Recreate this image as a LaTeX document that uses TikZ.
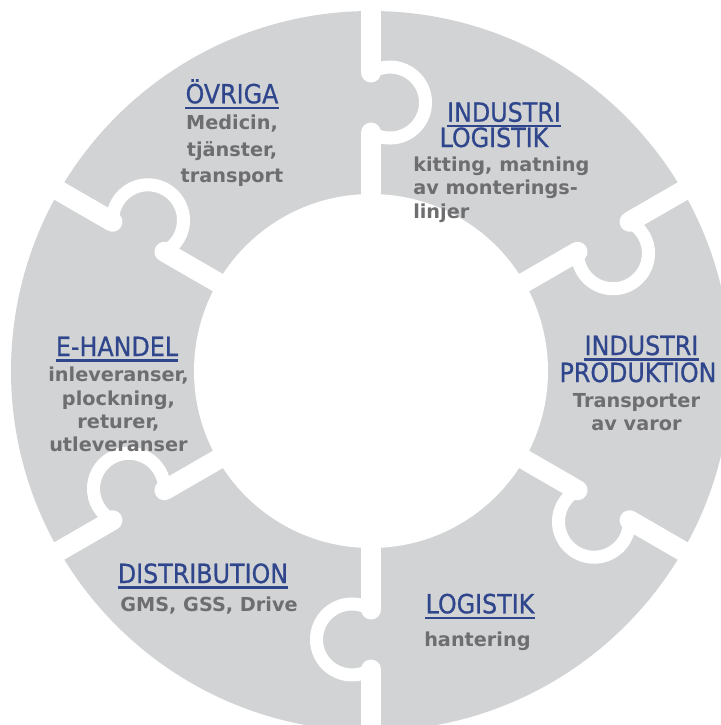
\documentclass[tikz,border=0pt]{standalone}
\usepackage{fontspec}
\setmainfont{DejaVu Sans}
\newfontfamily\headfont{DejaVu Sans Condensed}[FakeBold=0.7]
\definecolor{puzzlegrey}{RGB}{209,211,212}
\definecolor{headblue}{RGB}{47,70,140}
\definecolor{bodygrey}{RGB}{110,110,112}
\begin{document}
\begin{tikzpicture}[x=0.025cm, y=0.025cm,
        gapline/.style={white, line width=0.5cm, line cap=round},
        knobline/.style={white, line width=0.325cm},
        heading/.style={headblue, inner sep=0pt, anchor=base, font=\headfont\fontsize{18.8}{22}\selectfont},
        uline/.style={headblue, line width=0.06cm},
        body/.style={bodygrey, inner sep=0pt, anchor=base, align=center, font=\bfseries\fontsize{13.7}{16.6}\selectfont}]
                \useasboundingbox (-371,-354) rectangle (350,371);
                \clip (-371,-354) rectangle (350,371);
                \fill[puzzlegrey] (0,0) circle (360);
                \fill[white] (0,0) circle (177);
                % gaps with knobs
                \begin{scope}[rotate=-60]
                    \draw[gapline] (0,170) -- (0,238.5);
                    \draw[gapline] (0,298.5) -- (0,368);
                    \draw[knobline] (0,238.5) arc[start angle=-122.4, end angle=122.4, radius=35.5];
                \end{scope}
                \begin{scope}[rotate=0]
                    \draw[gapline] (0,170) -- (0,238.5);
                    \draw[gapline] (0,298.5) -- (0,368);
                    \draw[knobline] (0,238.5) arc[start angle=-122.4, end angle=122.4, radius=35.5];
                \end{scope}
                \begin{scope}[rotate=60]
                    \draw[gapline] (0,170) -- (0,238.5);
                    \draw[gapline] (0,298.5) -- (0,368);
                    \draw[knobline] (0,238.5) arc[start angle=-122.4, end angle=122.4, radius=35.5];
                \end{scope}
                \begin{scope}[rotate=120]
                    \draw[gapline] (0,170) -- (0,238.5);
                    \draw[gapline] (0,298.5) -- (0,368);
                    \draw[knobline] (0,238.5) arc[start angle=-122.4, end angle=122.4, radius=35.5];
                \end{scope}
                \begin{scope}[rotate=180]
                    \draw[gapline] (0,170) -- (0,238.5);
                    \draw[gapline] (0,298.5) -- (0,368);
                    \draw[knobline] (0,238.5) arc[start angle=-122.4, end angle=122.4, radius=35.5];
                \end{scope}
                \begin{scope}[rotate=240]
                    \draw[gapline] (0,170) -- (0,238.5);
                    \draw[gapline] (0,298.5) -- (0,368);
                    \draw[knobline] (0,238.5) arc[start angle=-122.4, end angle=122.4, radius=35.5];
                \end{scope}
                % headings
                \node[heading] (ovriga) at (-139,267.7) {ÖVRIGA};
                \node[heading] (indlogA) at (133,249.3) {INDUSTRI};
                \node[heading] (indlogB) at (123,224) {LOGISTIK};
                \node[heading] (indprodA) at (270.5,16) {INDUSTRI};
                \node[heading] (indprodB) at (267,-11) {PRODUKTION};
                \node[heading] (ehandel) at (-254,15) {E-HANDEL};
                \node[heading] (distribution) at (-168,-212) {DISTRIBUTION};
                \node[heading] (logistik) at (109,-242.3) {LOGISTIK};
                \draw[uline] ([yshift=-0.11cm]ovriga.base west) -- ([yshift=-0.11cm]ovriga.base east);
                \draw[uline] ([yshift=-0.11cm]indlogA.base west) -- ([yshift=-0.11cm]indlogA.base east);
                \draw[uline] ([yshift=-0.11cm]indprodA.base west) -- ([yshift=-0.11cm]indprodA.base east);
                \draw[uline] ([yshift=-0.11cm]ehandel.base west) -- ([yshift=-0.11cm]ehandel.base east);
                \draw[uline] ([yshift=-0.11cm]distribution.base west) -- ([yshift=-0.11cm]distribution.base east);
                \draw[uline] ([yshift=-0.11cm]logistik.base west) -- ([yshift=-0.11cm]logistik.base east);
                % texts (base = last line)
                \node[body, font=\bfseries\fontsize{13.7}{18.9}\selectfont] (ovrigatext) at (-139,188.3) {Medicin,\\tjänster,\\transport};
                \node[body, anchor=base west, align=left] (indlogtext) at (42,152.7) {kitting, matning\\av monterings-\\linjer};
                \node[body] (indprodtext) at (265.5,-59.7) {Transporter\\av varor};
                \node[body] (ehandeltext) at (-252.5,-80.7) {inleveranser,\\plockning,\\returer,\\utleveranser};
                \node[body] (distributiontext) at (-162,-240.7) {GMS, GSS, Drive};
                \node[body, anchor=base west] (logistiktext) at (53,-275.7) {hantering};
            \end{tikzpicture}
\end{document}
